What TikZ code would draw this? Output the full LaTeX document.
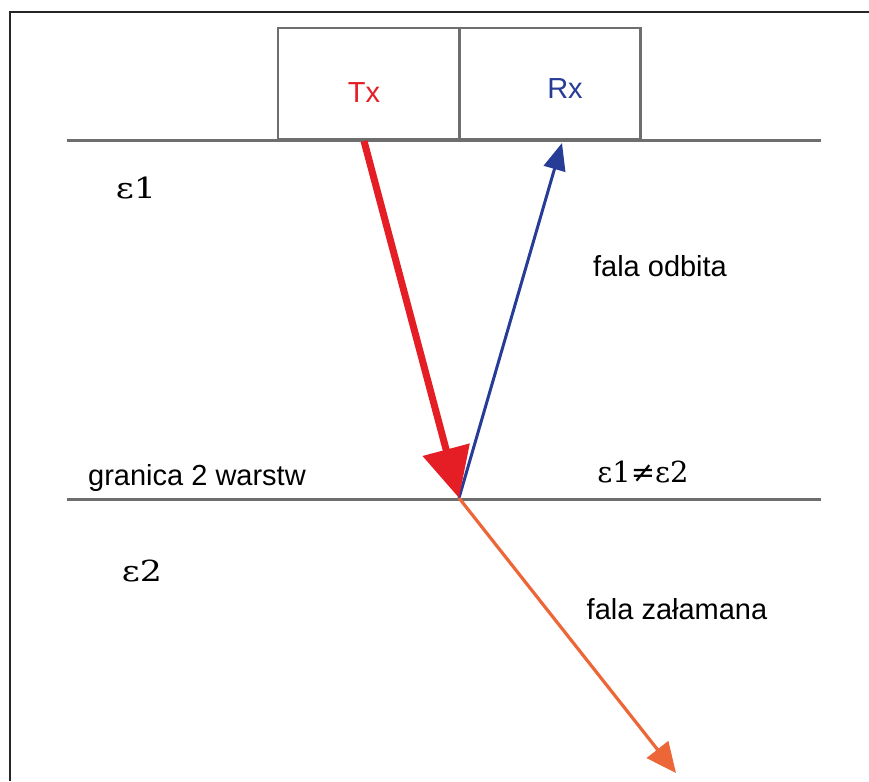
\documentclass[tikz,border=0pt]{standalone}
\usepackage{fontspec}
\setmainfont{DejaVu Serif}
\setsansfont{Liberation Sans}
\usetikzlibrary{arrows.meta}

\definecolor{txred}{RGB}{228,30,36}
\definecolor{rxblue}{RGB}{38,60,150}
\definecolor{refrorange}{RGB}{236,102,56}
\definecolor{layergray}{RGB}{110,110,110}

\newcommand{\epswide}[1]{\scalebox{1.2}[1]{#1}}

\begin{document}
\begin{tikzpicture}[x=1pt, y=-1pt, font=\sffamily\fontsize{29}{34}\selectfont]

% styles
\tikzset{
  cell/.style={rectangle, draw=layergray, line width=2.8pt, minimum width=181pt, minimum height=111pt, inner sep=0pt},
  layer/.style={draw=layergray, line width=3pt},
  eps/.style={font=\rmfamily\fontsize{29}{34}\selectfont, inner sep=0pt},
  txt/.style={inner sep=0pt},
  incident/.style={-{Triangle[length=50pt,width=47pt]}, draw=txred, fill=txred, line width=7pt},
  reflected/.style={-{Triangle[length=27pt,width=22pt]}, draw=rxblue, fill=rxblue, line width=3pt},
  refracted/.style={-{Triangle[length=30pt,width=27pt]}, draw=refrorange, fill=refrorange, line width=3.2pt}
}

\useasboundingbox (0,0) rectangle (869,781);

% frame (only left and top edges are in view)
\draw[line width=1.8pt, black!85] (10,781) -- (10,12) -- (869,12);

% antenna box
\node[cell] (txcell) at (368.5,83.5) {};
\node[cell] (rxcell) at (550,83.5) {};
\node[txt, text=txred] (tx) at (364,93) {Tx};
\node[txt, text=rxblue] (rx) at (565,89) {Rx};

% layer boundaries
\coordinate (top w) at (67,140);
\coordinate (top e) at (821,140);
\coordinate (bot w) at (67,499);
\coordinate (bot e) at (821,499);
\draw[layer] (top w) -- (top e);
\draw[layer] (bot w) -- (bot e);

% ray points
\coordinate (src) at (364,141);
\coordinate (hit) at (459,498);
\coordinate (rcv) at (562,143);
\coordinate (deep) at (676,773);

% labels
\node[eps] (e1) at (136,188) {\epswide{ε1}};
\node[eps] (e2) at (142,571) {\epswide{ε2}};
\node[eps] (e12) at (643,472) {ε1≠ε2};
\node[txt] (odb) at (660,266) {fala odbita};
\node[txt] (gran) at (197,478) {granica 2 warstw};
\node[txt] (zal) at (677,609) {fala załamana};

% rays
\draw[reflected] (hit) -- (rcv);
\draw[refracted] (hit) -- (deep);
\draw[incident] (src) -- (hit);

\end{tikzpicture}
\end{document}
